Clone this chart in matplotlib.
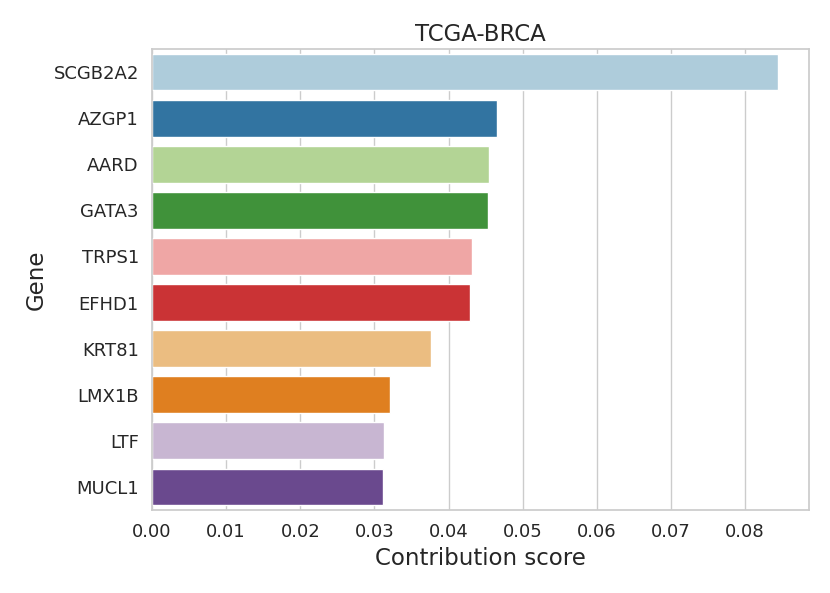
import matplotlib
matplotlib.use("Agg")
import matplotlib.pyplot as plt
import seaborn as sns
import pandas as pd

genes = ["SCGB2A2", "AZGP1", "AARD", "GATA3", "TRPS1", "EFHD1", "KRT81", "LMX1B", "LTF", "MUCL1"]
scores = [0.0844, 0.0466, 0.0455, 0.0453, 0.0432, 0.0429, 0.0376, 0.0321, 0.0313, 0.0311]

sns.set_theme(style="whitegrid")
plt.rcParams['font.family'] = ['DejaVu Sans']

df = pd.DataFrame({"Gene": genes, "Contribution score": scores})
fig = plt.figure(figsize=(8.3, 5.93), dpi=100)
ax = fig.add_axes([152/830, 1 - 510/593, (809-152)/830, (510-49)/593])
sns.barplot(data=df, x="Contribution score", y="Gene", hue="Gene", palette="Paired", legend=False, ax=ax)
ax.set_title("TCGA-BRCA", fontsize=16.5)
ax.set_xlabel("Contribution score", fontsize=16.5)
ax.set_ylabel("Gene", fontsize=16.5)
ax.tick_params(axis='both', labelsize=13)
fig.savefig("out.png", dpi=100)
